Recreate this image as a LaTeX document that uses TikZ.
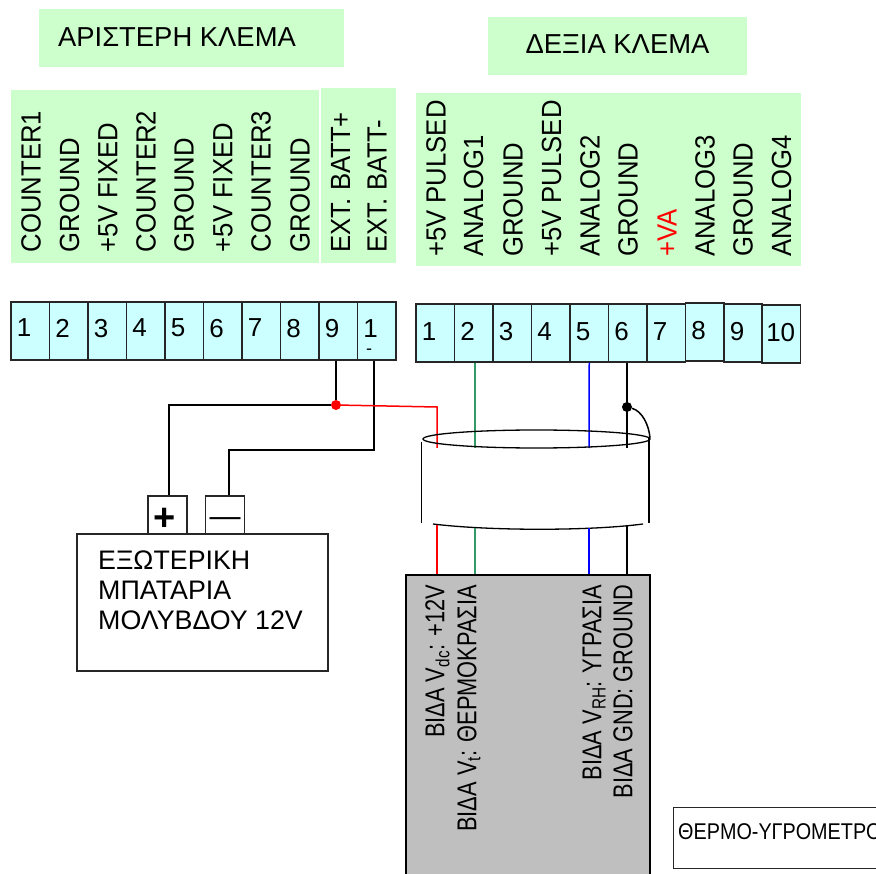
\documentclass[tikz,border=0pt]{standalone}
\usepackage{fontspec}
\setmainfont{Liberation Sans}
\tikzset{
 title/.style={fill=lightgreen,inner sep=0},
 titletext/.style={inner sep=0,font=\fontsize{27.4}{30}\selectfont},
 signal/.style={rotate=90,yscale=1.08,anchor=west,inner sep=0,font=\fontsize{25.7}{28}\selectfont},
 cell/.style={draw=black!85,fill=lightcyan,line width=1.5pt,minimum width=38.5pt,minimum height=58pt,inner sep=0,text width=27pt,align=left,text depth=6pt,font=\fontsize{26}{28}\selectfont},
 rcell/.style={cell,text depth=3pt},
 screw/.style={rotate=90,yscale=1.25,anchor=east,inner sep=0,text height=15pt,text depth=0pt,font=\fontsize{21.8}{24}\selectfont},
 wire/.style={line width=1.5pt},
 box/.style={draw=black!85,fill=white,line width=1.3pt,inner sep=0}
}
\definecolor{lightgreen}{RGB}{204,255,204}
\definecolor{lightcyan}{RGB}{204,255,255}
\definecolor{cablegreen}{RGB}{51,153,102}
\begin{document}
\begin{tikzpicture}[
 x=1pt,
 y=-1pt
]
\useasboundingbox (0,0) rectangle (876,874);
% green panels
\node (lefttitle) [title,minimum width=305pt,minimum height=58pt] at (191.5,38) {};
\node (lefttext) at (177,37) [titletext] {ΑΡΙΣΤΕΡΗ ΚΛΕΜΑ};
\node (righttitle) [title,minimum width=259pt,minimum height=58pt] at (617.5,46) {};
\node (righttext) at (617.5,44) [titletext] {ΔΕΞΙΑ ΚΛΕΜΑ};
\fill[lightgreen] (11,90) rectangle (319,263);
\fill[lightgreen] (321,88) rectangle (396,263);
\fill[lightgreen] (416,93) rectangle (801,266);
% left labels
\node (ls1) at (31,252.5) [signal] {COUNTER1};
\node (ls2) at (69.5,252.5) [signal] {GROUND};
\node (ls3) at (108,252.5) [signal] {+5V FIXED};
\node (ls4) at (146,252.5) [signal] {COUNTER2};
\node (ls5) at (184,252.5) [signal] {GROUND};
\node (ls6) at (223,252.5) [signal] {+5V FIXED};
\node (ls7) at (261,252.5) [signal] {COUNTER3};
\node (ls8) at (300,252.5) [signal] {GROUND};
\node (ls9) at (340.5,252.5) [signal] {EXT. BATT+};
\node (ls10) at (377,252.5) [signal] {EXT. BATT-};
% right labels
\node (rs1) at (436,257) [signal] {+5V PULSED};
\node (rs2) at (473.5,257) [signal] {ANALOG1};
\node (rs3) at (513,257) [signal] {GROUND};
\node (rs4) at (551.5,257) [signal] {+5V PULSED};
\node (rs5) at (590,257) [signal] {ANALOG2};
\node (rs6) at (628,257) [signal] {GROUND};
\node (rs7) at (667,257) [signal,text=red] {+VA};
\node (rs8) at (705,257) [signal] {ANALOG3};
\node (rs9) at (743,257) [signal] {GROUND};
\node (rs10) at (781.5,257) [signal] {ANALOG4};
% left terminal
\node (l1) at (30.25,331) [cell] {1};
\node (l2) at (68.75,331) [cell] {2};
\node (l3) at (107.25,331) [cell] {3};
\node (l4) at (145.75,331) [cell] {4};
\node (l5) at (184.25,331) [cell] {5};
\node (l6) at (222.75,331) [cell] {6};
\node (l7) at (261.25,331) [cell] {7};
\node (l8) at (299.75,331) [cell] {8};
\node (l9) at (338.25,331) [cell] {9};
\node (l10) at (376.75,331) [cell,text height=12.6pt,text depth=0pt] {1};
\node (l10dash) at (369,352) [font=\fontsize{18}{20}\selectfont,inner sep=0] {-};
% right terminal
\node (r1) at (435.25,333) [rcell] {1};
\node (r2) at (473.75,333) [rcell] {2};
\node (r3) at (512.25,333) [rcell] {3};
\node (r4) at (550.75,333) [rcell] {4};
\node (r5) at (589.25,333) [rcell] {5};
\node (r6) at (627.75,333) [rcell] {6};
\node (r7) at (666.25,333) [rcell] {7};
\node (r8) at (704.75,332) [rcell] {8};
\node (r9) at (743.25,333) [rcell] {9};
\node (r10) at (781.25,334) [rcell,text width=30pt] {10};
% battery
\node (plus) at (167.5,515) [box,minimum width=39pt,minimum height=38pt,text width=28pt,align=left,text height=31pt,font=\fontsize{38}{38}\selectfont\bfseries] {+};
\node (minus) at (225,515) [box,minimum width=39pt,minimum height=38pt,text height=23pt,font=\fontsize{31}{31}\selectfont] {—};
\node (battery) at (202.5,602.5) [box,minimum width=251pt,minimum height=137pt] {};
\node (batterytext) at (98,590) [anchor=west,align=left,inner sep=0,font=\fontsize{26.8}{30}\selectfont] {ΕΞΩΤΕΡΙΚΗ\\ΜΠΑΤΑΡΙΑ\\ΜΟΛΥΒΔΟΥ 12V};
% sensor
\node (sensor) at (528,730) [draw=black,fill=black!25,line width=1.4pt,inner sep=0,minimum width=244pt,minimum height=310pt] {};
\node (sdc) at (435,585) [screw] {ΒΙΔΑ V\textsubscript{dc}: +12V};
\node (st) at (467,585) [screw] {ΒΙΔΑ V\textsubscript{t}: ΘΕΡΜΟΚΡΑΣΙΑ};
\node (srh) at (592,585) [screw] {ΒΙΔΑ V\textsubscript{RH}: ΥΓΡΑΣΙΑ};
\node (sgnd) at (623,585) [screw] {ΒΙΔΑ GND: GROUND};
\node (sensorname) at (673,807) [box,anchor=north west,minimum width=210pt,minimum height=61pt] {};
\node (nametext) at (678,832) [anchor=west,yscale=1.15,inner sep=0,font=\fontsize{19.8}{22}\selectfont] {ΘΕΡΜΟ-ΥΓΡΟΜΕΤΡΟ};
% junctions and cable
\coordinate (redtop) at (437,407);
\coordinate (redin) at (437,448);
\coordinate (greenin) at (475,448);
\coordinate (bluein) at (589,448);
\coordinate (blackin) at (627,448);
\coordinate (redout) at (437,525);
\coordinate (greenout) at (475,528);
\coordinate (blueout) at (589,528);
\coordinate (blackout) at (627,525);
\node (battjoin) at (336,405) [circle,fill=red,inner sep=0,minimum size=10pt] {};
\node (gndjoin) at (627,407) [circle,fill=black,inner sep=0,minimum size=10pt] {};
% battery wires
\draw[wire] (l9.south-|battjoin) -- (battjoin);
\draw[wire] (battjoin) -- (169,405) -- (plus.north-|169,0);
\draw[wire] (l10.south-|374,0) -- (374,450) -- (229,450) -- (minus.north-|229,0);
\draw[wire,red] (battjoin) -- (redtop) -- (redin);
% upper wires
\draw[wire,cablegreen] (r2.south-|475,0) -- (greenin);
\draw[wire,blue] (r5.south) -- (bluein);
\draw[wire] (r6.south-|627,0) -- (blackin);
% cable
\draw[line width=1.3pt] (536.5,439) ellipse [x radius=113.5,y radius=9];
\draw[line width=1.1pt] (421.7,442) -- (421.7,523);
\draw[line width=1.3pt] (649,437) -- (649,523);
\draw[line width=1.3pt] (433,524) .. controls (490,531) and (590,531) .. (643,524);
\draw[wire] (gndjoin) .. controls (642,411) and (649,425) .. (650,438);
% lower wires
\draw[wire,red] (redout) -- (redout|-sensor.north);
\draw[wire,cablegreen] (greenout) -- (greenout|-sensor.north);
\draw[wire,blue] (blueout) -- (blueout|-sensor.north);
\draw[wire] (blackout) -- (blackout|-sensor.north);
\end{tikzpicture}
\end{document}
